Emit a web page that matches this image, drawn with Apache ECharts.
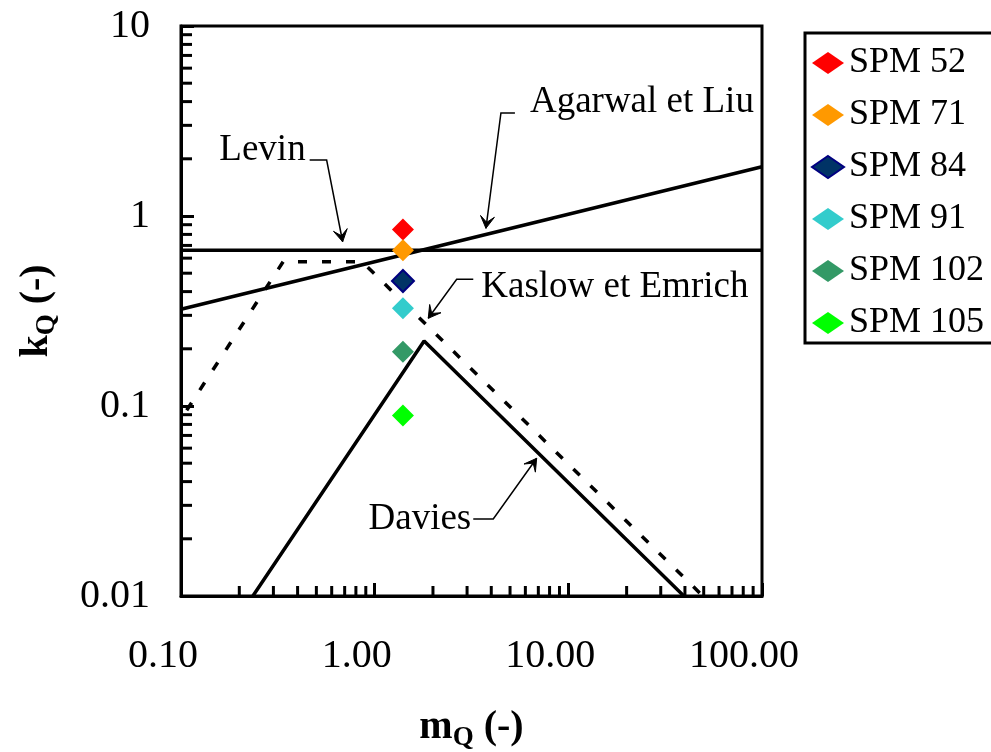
<!DOCTYPE html>
<html>
<head>
<meta charset="utf-8">
<script src="https://cdn.jsdelivr.net/npm/echarts@6/dist/echarts.min.js"></script>
<style>
  html, body { margin: 0; padding: 0; background: #fff; }
  #chart { width: 991px; height: 752px; }
</style>
</head>
<body>
<div id="chart"></div>
<script>
// ---- data -------------------------------------------------------------
// SPM samples: flow behaviour index mQ and consistency ratio kQ
const sampleNames = ['SPM 52', 'SPM 71', 'SPM 84', 'SPM 91', 'SPM 102', 'SPM 105'];
const sampleM = [1.4, 1.4, 1.4, 1.4, 1.4, 1.4];
const sampleK = [0.85, 0.66, 0.455, 0.327, 0.193, 0.089];

// correlation curves (mQ, kQ break points)
const levinM = [0.1, 100];
const levinK = [0.66, 0.66];
const agarwalM = [0.1, 100];
const agarwalK = [0.323, 1.816];
const kaslowM = [0.107, 0.337, 0.86, 49.5];
const kaslowK = [0.095, 0.575, 0.575, 0.01];
const daviesM = [0.235, 1.8, 39.5];
const daviesK = [0.01, 0.22, 0.01];

// axis ticks
const xTickValues = [0.1, 1, 10, 100];
const xTickLabels = ['0.10', '1.00', '10.00', '100.00'];
const yTickValues = [0.01, 0.1, 1, 10];
const yTickLabels = ['0.01', '0.1', '1', '10'];
const xMinorTicks = [0.2, 0.3, 0.4, 0.5, 0.6, 0.7, 0.8, 0.9,
                     2, 3, 4, 5, 6, 7, 8, 9,
                     20, 30, 40, 50, 60, 70, 80, 90];
const yMinorTicks = [0.02, 0.03, 0.04, 0.05, 0.06, 0.07, 0.08, 0.09,
                     0.2, 0.3, 0.4, 0.5, 0.6, 0.7, 0.8, 0.9,
                     2, 3, 4, 5, 6, 7, 8, 9];

// ---- styling ----------------------------------------------------------
const FONT = "'Times New Roman', 'Liberation Serif', serif";
const sampleColors = ['#FF0000', '#FF9900', '#003366', '#33CCCC', '#339966', '#00FF00'];
const sampleBorders = [null, null, '#000080', null, null, null];
const X_MIN = 0.1, X_MAX = 100, Y_MIN = 0.01, Y_MAX = 10;

// callout labels: arrow tip and leader knee in data space
const callouts = [
  { text: 'Levin', tip: [0.6835, 0.732], knee: [0.565, 1.971], tail: -17, gap: 4, dy: -9.5 },
  { text: 'Agarwal et Liu', tip: [3.754, 0.8615], knee: [4.487, 3.484], tail: 14, gap: 15, dy: -10.5 },
  { text: 'Kaslow et Emrich', tip: [1.891, 0.2894], knee: [2.651, 0.4644], tail: 16.6, gap: 8, dy: 7.5 },
  { text: 'Davies', tip: [6.862, 0.05305], knee: [4.096, 0.02542], tail: -20, gap: 2, dy: 0 }
];

function pairs(xs, ys) { return xs.map((x, i) => [x, ys[i]]); }
function lookupLabel(values, labels, v) {
  const i = values.findIndex(t => Math.abs(Math.log10(t) - Math.log10(v)) < 1e-6);
  return i >= 0 ? labels[i] : '';
}

const titleRich = {
  i: { fontFamily: FONT, fontSize: 40, fontWeight: 'bold', color: '#000', lineHeight: 49 },
  s: { fontFamily: FONT, fontSize: 27, fontWeight: 'bold', color: '#000', padding: [22, 0, 0, 0] }
};

const lineSeries = (name, xs, ys, dashed) => ({
  name, type: 'line', data: pairs(xs, ys), symbol: 'none', silent: true, z: 3,
  lineStyle: { color: '#000', width: 3.5, type: dashed ? [9, 15] : 'solid' }
});

const scatterSeries = sampleNames.map((name, i) => ({
  name, type: 'scatter', symbol: 'diamond', symbolSize: 22, z: 5,
  data: [[sampleM[i], sampleK[i]]],
  itemStyle: {
    color: sampleColors[i], opacity: 1,
    borderColor: sampleBorders[i] || sampleColors[i],
    borderWidth: sampleBorders[i] ? 2 : 0
  }
}));

const minorTickSeries = [
  {
    type: 'custom', silent: true, z: 6,
    data: xMinorTicks.map(v => [v, Y_MIN]),
    renderItem: (params, api) => {
      const p = api.coord([api.value(0), Y_MIN]);
      return { type: 'line', shape: { x1: p[0], y1: p[1], x2: p[0], y2: p[1] - 10 },
               style: { stroke: '#000', lineWidth: 3 } };
    }
  },
  {
    type: 'custom', silent: true, z: 6,
    data: yMinorTicks.map(v => [X_MIN, v]),
    renderItem: (params, api) => {
      const p = api.coord([X_MIN, api.value(1)]);
      return { type: 'line', shape: { x1: p[0], y1: p[1], x2: p[0] + 11, y2: p[1] },
               style: { stroke: '#000', lineWidth: 3 } };
    }
  }
];

const chart = echarts.init(document.getElementById('chart'), null, { renderer: 'canvas' });

chart.setOption({
  animation: false,
  backgroundColor: '#fff',
  grid: { left: 181, right: 229, top: 26, bottom: 156, show: true,
          outerBoundsMode: 'none', containLabel: false,
          borderColor: '#000', borderWidth: 3, backgroundColor: 'transparent' },
  legend: {
    data: sampleNames,
    orient: 'vertical', left: 805, top: 33,
    padding: [12, 45, 2, 6], itemGap: 16,
    itemWidth: 32, itemHeight: 22,
    borderColor: '#000', borderWidth: 3, backgroundColor: '#fff',
    itemStyle: { opacity: 1 },
    textStyle: { fontFamily: FONT, fontSize: 36, color: '#000' },
    selectedMode: false
  },
  xAxis: {
    type: 'log', logBase: 10, min: X_MIN, max: X_MAX,
    axisLine: { show: true, onZero: false, lineStyle: { color: '#000', width: 3 } },
    axisTick: { show: true, inside: true, length: 13, lineStyle: { color: '#000', width: 3 } },
    axisLabel: { margin: 40, fontFamily: FONT, fontSize: 40, color: '#000',
                 padding: [0, 36, 0, 0], showMinLabel: true, showMaxLabel: true,
                 formatter: v => lookupLabel(xTickValues, xTickLabels, v) },
    splitLine: { show: false },
    name: '{i|m}{s|Q}{i| (-)}', nameLocation: 'middle', nameGap: 107,
    nameTextStyle: { rich: titleRich }
  },
  yAxis: {
    type: 'log', logBase: 10, min: Y_MIN, max: Y_MAX,
    axisLine: { show: true, onZero: false, lineStyle: { color: '#000', width: 3 } },
    axisTick: { show: true, inside: true, length: 13, lineStyle: { color: '#000', width: 3 } },
    axisLabel: { margin: 31, fontFamily: FONT, fontSize: 40, color: '#000',
                 showMinLabel: true, showMaxLabel: true,
                 formatter: v => lookupLabel(yTickValues, yTickLabels, v) },
    splitLine: { show: false },
    name: '{i|k}{s|Q}{i| (-)}', nameLocation: 'middle', nameGap: 120,
    nameTextStyle: { rich: titleRich }
  },
  series: [
    lineSeries('Levin', levinM, levinK, false),
    lineSeries('Agarwal et Liu', agarwalM, agarwalK, false),
    lineSeries('Kaslow et Emrich', kaslowM, kaslowK, true),
    lineSeries('Davies', daviesM, daviesK, false),
    ...scatterSeries,
    ...minorTickSeries
  ]
});

// callout arrows and texts, placed through the axes' own scales
function arrowHead(tip, from) {
  const dx = tip[0] - from[0], dy = tip[1] - from[1];
  const len = Math.hypot(dx, dy), ux = dx / len, uy = dy / len;
  const L = 12, W = 7, N = 6;
  const bx = tip[0] - ux * L, by = tip[1] - uy * L;
  return [tip, [bx - uy * W, by + ux * W], [tip[0] - ux * N, tip[1] - uy * N], [bx + uy * W, by - ux * W]];
}

const graphics = [];
callouts.forEach(c => {
  const tip = chart.convertToPixel({ xAxisIndex: 0, yAxisIndex: 0 }, c.tip);
  const knee = chart.convertToPixel({ xAxisIndex: 0, yAxisIndex: 0 }, c.knee);
  const tailEnd = [knee[0] + c.tail, knee[1]];
  graphics.push({
    type: 'polyline', silent: true, z: 10,
    shape: { points: [tailEnd, knee, tip] },
    style: { stroke: '#000', lineWidth: 1.5, fill: null }
  });
  graphics.push({
    type: 'polygon', silent: true, z: 10,
    shape: { points: arrowHead(tip, knee) },
    style: { fill: '#000', stroke: '#000', lineWidth: 1 }
  });
  const dir = Math.sign(c.tail);
  graphics.push({
    type: 'text', silent: true, z: 10,
    x: tailEnd[0] + dir * c.gap, y: knee[1] + c.dy,
    style: { text: c.text, fontFamily: FONT, fontSize: 37, fill: '#000',
             align: dir > 0 ? 'left' : 'right', verticalAlign: 'middle' }
  });
});
chart.setOption({ graphic: graphics });
</script>
</body>
</html>
